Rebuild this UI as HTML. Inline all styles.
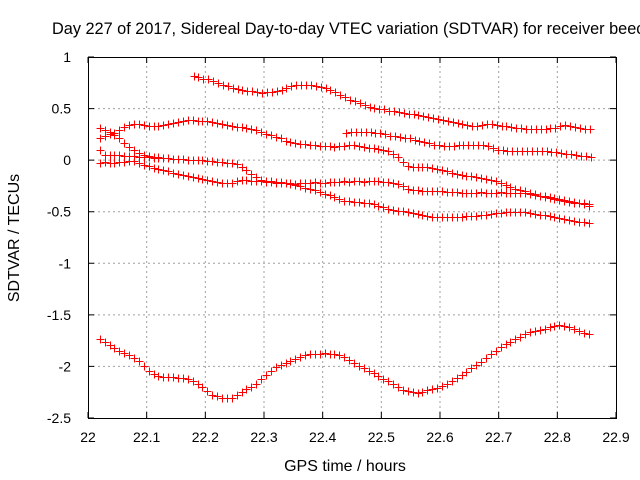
<!DOCTYPE html>
<html><head><meta charset="utf-8">
<style>
html,body{margin:0;padding:0;background:#fff;}
svg{display:block;font-family:"Liberation Sans",Arial,sans-serif;}
</style></head>
<body>
<svg id="chart" width="640" height="480" viewBox="0 0 640 480" xmlns="http://www.w3.org/2000/svg">
  <rect width="640" height="480" fill="#fff"/>
  <text x="52" y="34" font-size="16.3" fill="#000">Day 227 of 2017, Sidereal Day-to-day VTEC variation (SDTVAR) for receiver beec</text>
  <g id="grid"></g>
  <g id="axes"></g>
  <g id="series"></g>
  <text x="345" y="471" font-size="16" text-anchor="middle">GPS time / hours</text>
  <text x="0" y="0" font-size="16" text-anchor="middle" transform="translate(19,238) rotate(-90)">SDTVAR / TECUs</text>
</svg>
<script>
const xTicks = [22, 22.1, 22.2, 22.3, 22.4, 22.5, 22.6, 22.7, 22.8, 22.9];
const xTickLabels = ["22", "22.1", "22.2", "22.3", "22.4", "22.5", "22.6", "22.7", "22.8", "22.9"];
const yTicks = [1, 0.5, 0, -0.5, -1, -1.5, -2, -2.5];
const yTickLabels = ["1", "0.5", "0", "-0.5", "-1", "-1.5", "-2", "-2.5"];
const sampleStep = 1/120;

const startA = 22.18;
const valuesA = [.82,.81,.79,.79,.77,.75,.73,.72,.70,.69,.68,.67,.67,.66,.65,.66,.66,.67,.68,.70,.72,.73,.73,.73,.73,.72,.71,.70,.68,.66,.63,.61,.58,.57,.55,.53,.52,.51,.50,.50,.48,.48,.47,.46,.45,.45,.44,.43,.42,.41,.40,.39,.38,.37,.36,.35,.34,.33,.33,.34,.35,.35,.34,.33,.33,.32,.31,.31,.30,.30,.30,.30,.30,.31,.31,.33,.34,.33,.32,.31,.30,.30];

const startB = 22.02;
const valuesB = [.21,.23,.25,.26,.29,.32, .34,.35,.35,.34,.33,.33, .33,.34,.35,.36,.37,.38, .39,.39,.38,.38,.38,.37, .36,.35,.34,.33,.32,.32, .31,.30,.29,.27,.25,.24, .22,.21,.19,.18,.17,.16, .16,.15,.15,.14,.14,.14, .13,.14,.14,.15,.15,.14, .13,.12,.12,.11,.10,.09, .06,.03,-.02,-.06,-.07,-.07, -.07,-.07,-.08,-.09,-.10,-.11, -.12,-.13,-.14,-.15,-.15,-.16, -.17,-.18,-.19,-.20,-.22,-.24, -.26,-.28,-.29,-.30,-.32,-.33, -.35,-.35,-.36,-.37,-.38,-.40, -.41,-.42,-.42,-.43,-.44];

const startC = 22.02;
const valuesC = [-.03,-.02,-.03,-.03,-.02,-.02, -.01,-.01,-.03,-.05,-.06,-.08, -.09,-.10,-.11,-.12,-.13,-.14, -.15,-.16,-.17,-.18,-.19,-.20, -.21,-.22,-.22,-.22,-.20,-.19, -.19,-.20,-.20,-.20,-.21,-.21, -.22,-.22,-.22,-.22,-.23,-.22, -.22,-.22,-.21,-.22,-.22,-.21, -.21,-.21,-.20,-.21,-.20,-.20, -.21,-.20,-.20,-.20,-.21,-.21, -.22,-.23,-.25,-.28,-.29,-.29, -.30,-.30,-.30,-.30,-.30,-.31, -.31,-.31,-.32,-.32,-.32,-.32, -.31,-.32,-.32,-.32,-.31,-.32, -.32,-.32,-.32,-.32,-.33,-.34, -.35,-.36,-.37,-.38,-.39,-.39, -.40,-.41,-.42,-.42,-.43];

const startD = 22.02;
const valuesD = [.10,.05,.05,.05,.05,.04, .04,.04,.03,.03,.03,.02, .02,.02,.02,.01,.01,.01, .00,.00,.00,.00,-.01,-.01, -.02,-.02,-.03,-.03,-.04,-.07, -.10,-.13,-.16,-.19,-.20,-.20, -.21,-.21,-.22,-.23,-.24,-.25, -.27,-.28,-.29,-.31,-.33,-.34, -.36,-.38,-.40,-.40,-.41,-.41, -.42,-.42,-.43,-.44,-.45,-.47, -.48,-.49,-.49,-.50,-.51,-.52, -.53,-.54,-.55,-.55,-.55,-.55, -.55,-.55,-.55,-.54,-.54,-.54, -.53,-.53,-.52,-.51,-.51,-.50, -.50,-.50,-.50,-.50,-.51,-.52, -.53,-.53,-.54,-.55,-.56,-.57, -.58,-.59,-.60,-.60,-.61];

const startE = 22.44;
const valuesE = [.26,.27,.27,.27,.27,.27, .26,.26,.25,.23,.23,.22, .21,.21,.20,.19,.18,.17, .15,.15,.14,.14,.14,.15, .15,.15,.15,.15,.15,.14, .12,.10,.10,.09,.09,.09, .09,.09,.09,.09,.09,.09, .08,.08,.07,.06,.06,.05, .04,.04,.03];

const startF = 22.02;
const valuesF = [.31,.29,.27,.24,.21,.17,.13,.10,.07,.05,.04,.03,.03,.02,.02,.01];

const startG = 22.02;
const valuesG = [-1.73,-1.76,-1.79,-1.82,-1.85,-1.87, -1.89,-1.92,-1.95,-2.00,-2.04,-2.07, -2.09,-2.10,-2.10,-2.10,-2.11,-2.11, -2.12,-2.14,-2.17,-2.20,-2.24,-2.28, -2.29,-2.31,-2.31,-2.31,-2.28,-2.25, -2.22,-2.20,-2.17,-2.12,-2.08,-2.04, -2.01,-1.99,-1.97,-1.95,-1.93,-1.91, -1.89,-1.88,-1.88,-1.88,-1.87,-1.88, -1.88,-1.89,-1.91,-1.94,-1.97,-2.00, -2.02,-2.04,-2.06,-2.09,-2.12,-2.14, -2.17,-2.20,-2.23,-2.24,-2.25,-2.26, -2.25,-2.23,-2.22,-2.21,-2.19,-2.17, -2.14,-2.11,-2.08,-2.05,-2.02,-1.99, -1.96,-1.92,-1.88,-1.85,-1.81,-1.78, -1.76,-1.73,-1.71,-1.69,-1.67,-1.66, -1.65,-1.64,-1.62,-1.61,-1.60,-1.61, -1.62,-1.64,-1.66,-1.68,-1.69];

const seriesStarts = [startA, startB, startC, startD, startE, startF, startG];
const seriesValues = [valuesA, valuesB, valuesC, valuesD, valuesE, valuesF, valuesG];
const seriesNames = ["series-a", "series-b", "series-c", "series-d", "series-e", "series-f", "series-g"];

const X0 = 88, X1 = 616, Y0 = 418, Y1 = 57;
const xMin = 22, xMax = 22.9, yMin = -2.5, yMax = 1;
function xs(v){ return X0 + (v - xMin) / (xMax - xMin) * (X1 - X0); }
function ys(v){ return Y0 - (v - yMin) / (yMax - yMin) * (Y0 - Y1); }

const NS = "http://www.w3.org/2000/svg";
function mk(tag, attrs, parent){
  const e = document.createElementNS(NS, tag);
  for (const k in attrs) e.setAttribute(k, attrs[k]);
  parent.appendChild(e);
  return e;
}
const grid = document.getElementById('grid');
const axes = document.getElementById('axes');
const series = document.getElementById('series');

xTicks.forEach((t, i) => {
  const x = xs(t);
  if (i > 0 && i < xTicks.length - 1) {
    const g = mk('line', {x1:x, y1:Y0, x2:x, y2:Y1, stroke:'#a0a0a0', 'stroke-width':1, 'stroke-dasharray':'2,3'}, grid);
    
    
  }
  const tk = mk('path', {d:`M${x},${Y0}v-6M${x},${Y1}v6`, stroke:'#000', 'stroke-width':1}, axes);
  
  
  const lb = mk('text', {x:x, y:442, 'font-size':14, 'text-anchor':'middle'}, axes);
  lb.textContent = xTickLabels[i];
  
  
});
yTicks.forEach((t, i) => {
  const y = ys(t);
  if (i > 0 && i < yTicks.length - 1) {
    const g = mk('line', {x1:X0, y1:y, x2:X1, y2:y, stroke:'#a0a0a0', 'stroke-width':1, 'stroke-dasharray':'2,3'}, grid);
    
    
  }
  const tk = mk('path', {d:`M${X0},${y}h6M${X1},${y}h-6`, stroke:'#000', 'stroke-width':1}, axes);
  
  
  const lb = mk('text', {x:71, y:y + 5, 'font-size':14, 'text-anchor':'end'}, axes);
  lb.textContent = yTickLabels[i];
  
  
});
const frame = mk('rect', {x:X0 + 0.5, y:Y1 + 0.5, width:X1 - X0, height:Y0 - Y1, fill:'none', stroke:'#000', 'stroke-width':1}, axes);



seriesValues.forEach((vals, si) => {
  const start = seriesStarts[si];
  let d = '';
  vals.forEach((v, i) => {
    const x = Math.round(xs(start + i * sampleStep)) + 0.5;
    const y = Math.round(ys(v)) + 0.5;
    d += `M${x - 4},${y}h8M${x},${y - 4}v8`;
  });
  const p = mk('path', {d:d, stroke:'#ff0000', 'stroke-width':1, fill:'none'}, series);
  
  
});
</script>
</body></html>
